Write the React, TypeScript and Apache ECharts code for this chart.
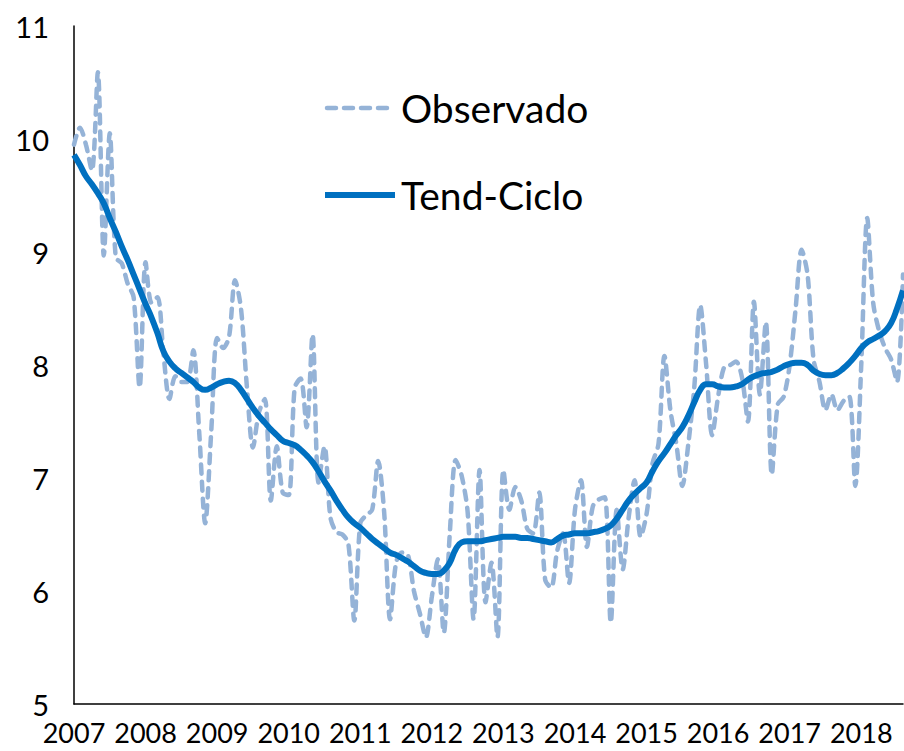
import React, { useEffect, useRef } from "react";
import * as echarts from "echarts";

// Tick labels (years) and monthly categories
const yearLabels = ["2007", "2008", "2009", "2010", "2011", "2012", "2013", "2014", "2015", "2016", "2017", "2018"];
const monthsInLastYear = 8;
const categories: string[] = [];
yearLabels.forEach((y, yi) => {
  const n = yi === yearLabels.length - 1 ? monthsInLastYear : 12;
  for (let m = 1; m <= n; m++) categories.push(`${y}-${m < 10 ? "0" + m : m}`);
});

const yTicks = [5, 6, 7, 8, 9, 10, 11];

const observado = [
  9.95, 10.1, 9.95, 9.72, 10.59, 8.97, 10.05, 8.95, 8.9, 8.72, 8.6, 7.8,
  8.91, 8.55, 8.6, 8.1, 7.7, 7.9, 7.85, 7.85, 8.13, 7.4, 6.6, 7.4,
  8.24, 8.15, 8.25, 8.75, 8.5, 7.8, 7.27, 7.58, 7.7, 6.8, 7.28, 6.87,
  6.85, 7.8, 7.88, 7.45, 8.27, 6.96, 7.28, 6.65, 6.52, 6.5, 6.42, 5.74,
  6.6, 6.67, 6.72, 7.15, 6.7, 5.75, 6.25, 6.34, 6.32, 6.0, 5.8, 5.59,
  5.95, 6.28, 5.63, 6.5, 7.16, 7.02, 6.7, 5.75, 7.07, 5.9, 6.25, 5.59,
  7.07, 6.72, 6.92, 6.8, 6.55, 6.51, 6.87, 6.1, 6.03, 6.35, 6.51, 6.07,
  6.72, 6.98, 6.39, 6.75, 6.81, 6.83, 5.72, 6.72, 6.19, 6.65, 6.98, 6.48,
  6.68, 7.13, 7.3, 8.08, 7.6, 7.3, 6.93, 7.3, 7.8, 8.53, 8.0, 7.38,
  7.72, 7.98, 8.0, 8.03, 7.89, 7.5, 8.56, 7.74, 8.38, 7.03, 7.65, 7.72,
  8.0, 8.5, 9.02, 8.8, 8.05, 7.85, 7.6, 7.74, 7.6, 7.68, 7.72, 6.93,
  8.0, 9.3, 8.55, 8.3, 8.15, 8.05, 7.85, 8.8,
];

// Trend-cycle series (monthly)
const tendCiclo = [
  9.86, 9.77, 9.67, 9.6, 9.52, 9.43, 9.3, 9.18, 9.05, 8.93, 8.8, 8.67,
  8.54, 8.42, 8.28, 8.12, 8.03, 7.97, 7.93, 7.89, 7.85, 7.8, 7.78, 7.8,
  7.83, 7.85, 7.86, 7.84, 7.78, 7.7, 7.62, 7.55, 7.49, 7.43, 7.38, 7.33,
  7.31, 7.29, 7.25, 7.2, 7.14, 7.06, 6.97, 6.89, 6.8, 6.72, 6.65, 6.6,
  6.56, 6.51, 6.46, 6.42, 6.38, 6.34, 6.32, 6.29, 6.26, 6.22, 6.18, 6.16,
  6.15, 6.15, 6.18, 6.25, 6.37, 6.43, 6.44, 6.44, 6.44, 6.45, 6.46, 6.47,
  6.48, 6.48, 6.48, 6.47, 6.47, 6.46, 6.45, 6.44, 6.43, 6.46, 6.49, 6.5,
  6.51, 6.51, 6.51, 6.52, 6.53, 6.55, 6.58, 6.64, 6.72, 6.8, 6.86, 6.91,
  6.96, 7.06, 7.15, 7.22, 7.3, 7.38, 7.45, 7.55, 7.67, 7.78, 7.83, 7.83,
  7.81, 7.8, 7.8, 7.81, 7.83, 7.87, 7.9, 7.92, 7.93, 7.94, 7.96, 7.99,
  8.01, 8.02, 8.02, 8.0, 7.95, 7.92, 7.91, 7.91, 7.93, 7.97, 8.02, 8.08,
  8.15, 8.2, 8.23, 8.26, 8.3, 8.37, 8.5, 8.66,
];

const seriesNames = ["Observado", "Tend-Ciclo"];

const OBS_COLOR = "#95B3D7";
const TREND_COLOR = "#0070C0";
const OBS_DASH = [9, 8];

export default function App() {
  const ref = useRef<HTMLDivElement>(null);
  useEffect(() => {
    if (!ref.current) return;
    const chart = echarts.init(ref.current, undefined, { renderer: "svg" });
    const font = "Lato, 'Open Sans', sans-serif";
    chart.setOption({
      animation: false,
      backgroundColor: "#ffffff",
      grid: { left: 74, right: 1, top: 26, bottom: 47, containLabel: false },
      graphic: [
        {
          type: "line",
          shape: { x1: 327, y1: 108, x2: 393, y2: 108 },
          style: { stroke: OBS_COLOR, lineWidth: 4.5, lineDash: OBS_DASH, lineCap: "round" },
        },
        {
          type: "text",
          x: 401,
          y: 108,
          style: {
            text: seriesNames[0],
            fontFamily: font,
            fontSize: 39,
            fill: "#000",
            verticalAlign: "middle",
            align: "left",
          },
        },
        {
          type: "line",
          shape: { x1: 325, y1: 195, x2: 395, y2: 195 },
          style: { stroke: TREND_COLOR, lineWidth: 6 },
        },
        {
          type: "text",
          x: 401,
          y: 195,
          style: {
            text: seriesNames[1],
            fontFamily: font,
            fontSize: 39,
            fill: "#000",
            verticalAlign: "middle",
            align: "left",
          },
        },
      ],
      xAxis: {
        type: "category",
        data: categories,
        boundaryGap: false,
        axisLine: { lineStyle: { color: "#000", width: 1.5 } },
        axisTick: { show: false },
        splitLine: { show: false },
        axisLabel: {
          interval: (idx: number) => idx % 12 === 0,
          formatter: (v: string) => v.slice(0, 4),
          fontFamily: font,
          fontSize: 27,
          color: "#000",
          margin: 15,
          lineHeight: 27,
        },
      },
      yAxis: {
        type: "value",
        min: yTicks[0],
        max: yTicks[yTicks.length - 1],
        interval: 1,
        axisLine: { show: true, lineStyle: { color: "#000", width: 1.5 } },
        axisTick: { show: false },
        splitLine: { show: false },
        axisLabel: { fontFamily: font, fontSize: 29, color: "#000", margin: 25 },
      },
      series: [
        {
          name: seriesNames[0],
          type: "line",
          data: observado,
          symbol: "none",
          smooth: 0.3,
          lineStyle: { color: OBS_COLOR, width: 4.5, type: OBS_DASH, cap: "round" },
          itemStyle: { color: OBS_COLOR },
          z: 2,
        },
        {
          name: seriesNames[1],
          type: "line",
          data: tendCiclo,
          symbol: "none",
          smooth: true,
          lineStyle: { color: TREND_COLOR, width: 6 },
          itemStyle: { color: TREND_COLOR },
          z: 3,
        },
      ],
    });
    return () => chart.dispose();
  }, []);
  return (
    <div
      ref={ref}
      style={{ position: "fixed", left: 0, top: 0, width: 904, height: 751, background: "#fff" }}
    />
  );
}
